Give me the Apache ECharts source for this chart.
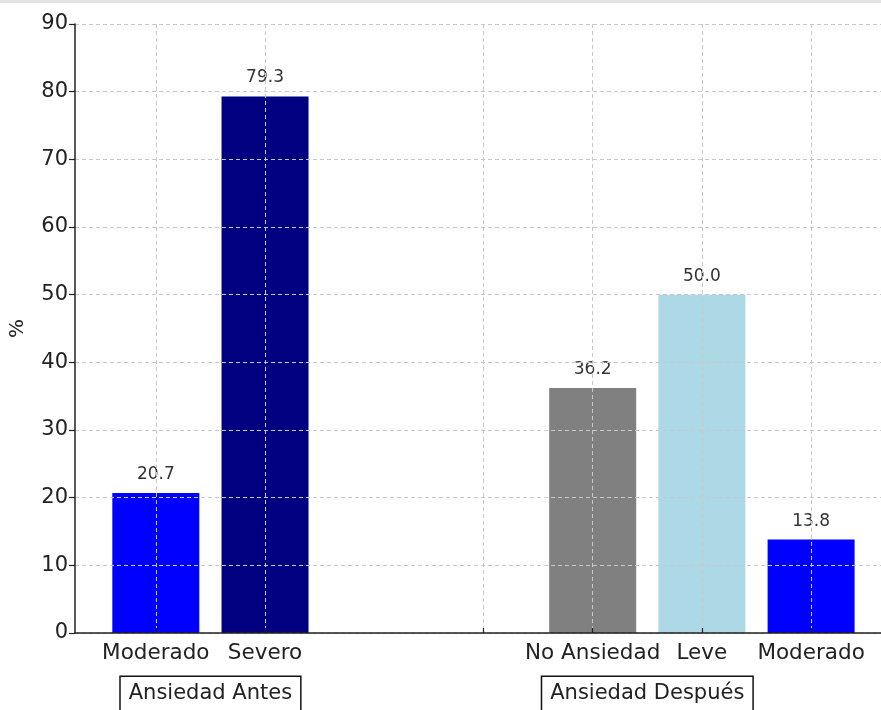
<!DOCTYPE html>
<html>
<head>
<meta charset="utf-8">
<script src="https://cdn.jsdelivr.net/npm/echarts@6/dist/echarts.min.js"></script>
<style>
html,body{margin:0;padding:0;background:#fff;}
#topbar{position:absolute;left:0;top:0;width:881px;height:3px;background:#e3e3e3;z-index:10;}
#c{width:881px;height:710px;}
</style>
</head>
<body>
<div id="topbar"></div>
<div id="c"></div>
<script>
// Data
var tickPositions = [0, 1, 3, 4, 5, 6];
var tickLabels = ['Moderado', 'Severo', '', 'No Ansiedad', 'Leve', 'Moderado'];
var barPositions = [0, 1, 4, 5, 6];
var barValues = [20.7, 79.3, 36.2, 50.0, 13.8];
var barColors = ['#0000ff', '#000080', '#808080', '#add8e6', '#0000ff'];
var groupNames = ['Ansiedad Antes', 'Ansiedad Después'];
var groupCenters = [0.5, 4.5];

var FONT = 'DejaVu Sans';
var chart = echarts.init(document.getElementById('c'));
var labelMap = {};
tickPositions.forEach(function (p, i) { labelMap[p] = tickLabels[i]; });

chart.setOption({
  animation: false,
  textStyle: { fontFamily: FONT },
  grid: { left: 75, right: 0, top: 24, bottom: 77 },
  xAxis: {
    type: 'value',
    min: -0.74,
    max: 6.64,
    z: 5,
    axisLine: { show: true, onZero: false, lineStyle: { color: '#222', width: 1.5 } },
    axisTick: { show: true, inside: true, length: 5, customValues: tickPositions, lineStyle: { color: '#222', width: 1.2 } },
    axisLabel: {
      customValues: tickPositions,
      formatter: function (v) { return labelMap[v] !== undefined ? labelMap[v] : ''; },
      color: '#222', fontSize: 21.5, fontFamily: FONT, margin: 9
    },
    splitLine: { show: true, lineStyle: { color: '#c8c8c8', type: [4, 3], width: 1 } }
  },
  yAxis: {
    type: 'value',
    min: 0,
    max: 90,
    interval: 10,
    z: 5,
    name: '%',
    nameLocation: 'middle',
    nameGap: 47,
    nameRotate: 90,
    nameTextStyle: { color: '#222', fontSize: 20, fontFamily: FONT },
    axisLine: { show: true, onZero: false, lineStyle: { color: '#222', width: 1.5 } },
    axisTick: { show: true, length: 6, lineStyle: { color: '#222', width: 1.2 } },
    axisLabel: { color: '#222', fontSize: 21, fontFamily: FONT, margin: 7 },
    splitLine: { show: true, lineStyle: { color: '#c8c8c8', type: [4, 3], width: 1 } }
  },
  series: [{
    type: 'bar',
    barWidth: 87,
    z: 2,
    data: barPositions.map(function (p, i) {
      return { value: [p, barValues[i]], itemStyle: { color: barColors[i] } };
    }),
    label: {
      show: true,
      position: 'top',
      distance: 10,
      color: '#333',
      fontSize: 17,
      fontFamily: FONT,
      formatter: function (p) { return p.value[1].toFixed(1); }
    }
  }]
});

var graphics = groupNames.map(function (name, i) {
  var px = chart.convertToPixel({ gridIndex: 0 }, [groupCenters[i], 0]);
  return {
    type: 'text',
    x: px[0],
    y: 677,
    style: {
      text: name,
      fontFamily: FONT,
      fontSize: 21,
      fill: '#222',
      align: 'center',
      verticalAlign: 'top',
      padding: [6, 8, 8, 8],
      borderColor: '#111',
      borderWidth: 1.5,
      backgroundColor: '#fff'
    },
    z: 10
  };
});
chart.setOption({ graphic: graphics });
</script>
</body>
</html>
